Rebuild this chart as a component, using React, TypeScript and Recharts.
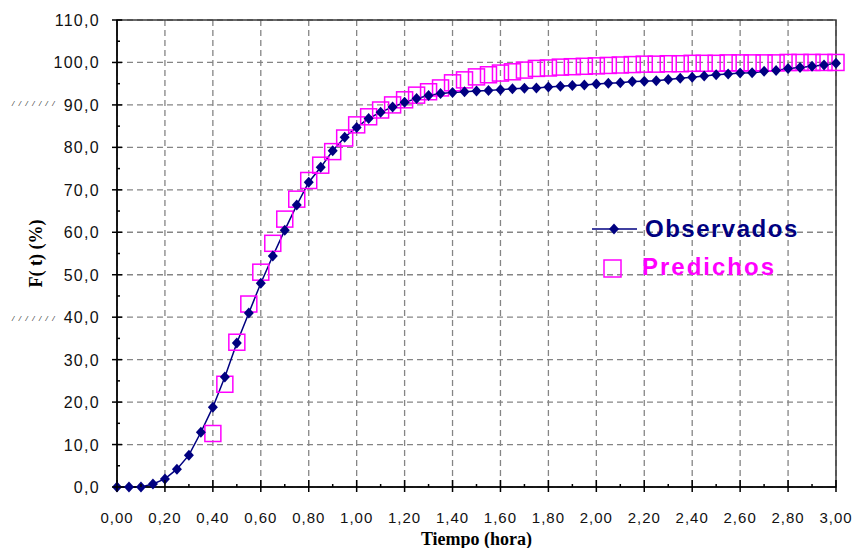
import { ComposedChart, Line, XAxis, YAxis, CartesianGrid, ReferenceArea } from 'recharts';

const T = [
  0, 0.05, 0.1, 0.15, 0.2, 0.25, 0.3, 0.35, 0.4, 0.45, 0.5, 0.55, 0.6, 0.65, 0.7, 0.75,
  0.8, 0.85, 0.9, 0.95, 1.0, 1.05, 1.1, 1.15, 1.2, 1.25, 1.3, 1.35, 1.4, 1.45, 1.5, 1.55,
  1.6, 1.65, 1.7, 1.75, 1.8, 1.85, 1.9, 1.95, 2.0, 2.05, 2.1, 2.15, 2.2, 2.25, 2.3, 2.35,
  2.4, 2.45, 2.5, 2.55, 2.6, 2.65, 2.7, 2.75, 2.8, 2.85, 2.9, 2.95, 3.0,
];

// Observados
const OBS = [
  0, 0, 0, 0.7, 1.9, 4.2, 7.5, 12.9, 18.8, 25.9, 33.9, 41.0, 48.0, 54.4, 60.5, 66.4,
  71.8, 75.3, 79.2, 82.4, 84.7, 86.8, 88.3, 89.5, 90.6, 91.5, 92.2, 92.7, 92.9, 93.1, 93.3, 93.4,
  93.6, 93.8, 93.9, 94.0, 94.2, 94.4, 94.6, 94.7, 94.9, 95.1, 95.2, 95.5, 95.6, 95.7, 96.0, 96.3,
  96.5, 96.8, 97.1, 97.3, 97.5, 97.6, 97.9, 98.1, 98.6, 98.8, 99.1, 99.4, 99.8,
];

// Predichos (start at 0,40)
const PRED = [
  null, null, null, null, null, null, null, null, 12.6, 24.2, 34.1, 43.1, 50.6, 57.4, 63.1, 67.8,
  72.2, 75.8, 79.0, 82.2, 85.3, 87.2, 88.8, 90.0, 91.2, 92.3, 93.1, 94.0, 95.2, 95.9, 96.6, 97.1,
  97.5, 97.8, 98.2, 98.6, 98.7, 98.9, 99.0, 99.1, 99.2, 99.3, 99.4, 99.5, 99.6, 99.6, 99.7, 99.7,
  99.8, 99.8, 99.8, 99.9, 99.9, 99.9, 99.9, 99.9, 100, 100, 100, 100, 100,
];

const X_MAJOR = [0, 0.2, 0.4, 0.6, 0.8, 1.0, 1.2, 1.4, 1.6, 1.8, 2.0, 2.2, 2.4, 2.6, 2.8, 3.0];
const X_TICKS = [
  0, 0.1, 0.2, 0.3, 0.4, 0.5, 0.6, 0.7, 0.8, 0.9, 1.0, 1.1, 1.2, 1.3, 1.4, 1.5,
  1.6, 1.7, 1.8, 1.9, 2.0, 2.1, 2.2, 2.3, 2.4, 2.5, 2.6, 2.7, 2.8, 2.9, 3.0,
];
const Y_MAJOR = [0, 10, 20, 30, 40, 50, 60, 70, 80, 90, 100, 110];
const Y_TICKS = [0, 5, 10, 15, 20, 25, 30, 35, 40, 45, 50, 55, 60, 65, 70, 75, 80, 85, 90, 95, 100, 105, 110];

const NAVY = '#000080';
const MAGENTA = '#ff00ff';
const SANS = '"Liberation Sans", Arial, sans-serif';
const SERIF = '"Liberation Serif", "Times New Roman", serif';

const data = T.map((t, i) => ({ t, obs: OBS[i], pred: PRED[i] }));

const isMajorX = (v: number) => Math.round(v * 10) % 2 === 0;
const isMajorY = (v: number) => Math.round(v) % 10 === 0;

const XTick = (props: any) => {
  const { x, y, payload } = props;
  const v = payload.value as number;
  if (!isMajorX(v)) {
    return <line x1={x} y1={y - 3} x2={x} y2={y} stroke="#000" strokeWidth={1.5} />;
  }
  return (
    <g>
      <line x1={x} y1={y - 7} x2={x} y2={y + 5} stroke="#000" strokeWidth={1.5} />
      <text x={x} y={y + 36} textAnchor="middle" fontSize={15} fontFamily={SANS} letterSpacing={1} fill="#111">
        {v.toFixed(2).replace('.', ',')}
      </text>
    </g>
  );
};

const YTick = (props: any) => {
  const { x, y, payload } = props;
  const v = payload.value as number;
  if (!isMajorY(v)) {
    return <line x1={x} y1={y} x2={x + 3} y2={y} stroke="#000" strokeWidth={1.5} />;
  }
  return (
    <g>
      <line x1={x - 5} y1={y} x2={x + 5} y2={y} stroke="#000" strokeWidth={1.5} />
      <text x={x - 17} y={y + 6} textAnchor="end" fontSize={16} fontFamily={SANS} letterSpacing={1.3} fill="#111">
        {v.toFixed(1).replace('.', ',')}
      </text>
    </g>
  );
};

const diamondPoints = (cx: number, cy: number) =>
  `${cx},${cy - 5.5} ${cx + 5},${cy} ${cx},${cy + 5.5} ${cx - 5},${cy}`;

const Diamond = (props: any) => {
  const { cx, cy, index } = props;
  if (cx == null || cy == null) return <g key={`o-${index}`} />;
  return <polygon key={`o-${index}`} points={diamondPoints(cx, cy)} fill={NAVY} />;
};

const Square = (props: any) => {
  const { cx, cy, index, payload } = props;
  if (cx == null || cy == null || payload.pred == null) return <g key={`p-${index}`} />;
  return (
    <rect key={`p-${index}`} x={cx - 8} y={cy - 8} width={16} height={16} fill="none" stroke={MAGENTA} strokeWidth={1.5} />
  );
};

const LegendBox = () => (
  <svg width={250} height={90} style={{ position: 'absolute', left: 585, top: 200 }}>
    <line x1={7} y1={29} x2={52} y2={29} stroke={NAVY} strokeWidth={1.5} />
    <polygon points={diamondPoints(29, 29)} fill={NAVY} />
    <text x={60} y={37} fontSize={24} fontWeight="bold" fontFamily={SANS} letterSpacing={1.5} fill={NAVY}>
      Observados
    </text>
    <rect x={19} y={60} width={17} height={17} fill="none" stroke={MAGENTA} strokeWidth={1.5} />
    <text x={57} y={75} fontSize={24} fontWeight="bold" fontFamily={SANS} letterSpacing={2} fill={MAGENTA}>
      Predichos
    </text>
  </svg>
);

const breakStyle: React.CSSProperties = {
  position: 'absolute',
  left: 12,
  fontSize: 8,
  letterSpacing: 4.5,
  fontStyle: 'italic',
  color: '#333',
  fontFamily: SANS,
  whiteSpace: 'nowrap',
};

export default function App() {
  return (
    <div style={{ position: 'absolute', left: 0, top: 0, width: 855, height: 548, background: '#fff' }}>
      <ComposedChart width={855} height={548} data={data} margin={{ top: 20, right: 19, left: 0, bottom: 0 }}>
        <CartesianGrid
          stroke="#858585"
          strokeDasharray="6 4"
          strokeWidth={1.3}
          verticalValues={X_MAJOR}
          horizontalValues={Y_MAJOR}
        />
        <ReferenceArea x1={0} x2={3} y1={0} y2={110} fill="none" stroke="#3a3a3a" strokeWidth={1.5} ifOverflow="visible" />
        <XAxis
          dataKey="t"
          type="number"
          domain={[0, 3]}
          ticks={X_TICKS}
          interval={0}
          height={61}
          tickSize={0}
          tickMargin={0}
          axisLine={{ stroke: '#000', strokeWidth: 1.5 }}
          tick={<XTick />}
          label={{
            value: 'Tiempo (hora)',
            position: 'insideBottom',
            offset: 3,
            style: { fontFamily: SERIF, fontWeight: 'bold', fontSize: 18, fill: '#000' },
          }}
        />
        <YAxis
          type="number"
          domain={[0, 110]}
          ticks={Y_TICKS}
          interval={0}
          width={117}
          tickSize={0}
          tickMargin={0}
          axisLine={{ stroke: '#000', strokeWidth: 1.5 }}
          tick={<YTick />}
          label={{
            value: 'F( t) (%)',
            angle: -90,
            position: 'insideLeft',
            offset: 36,
            style: { fontFamily: SERIF, fontWeight: 'bold', fontSize: 18, fill: '#000', textAnchor: 'middle' },
          }}
        />
        <Line
          dataKey="pred"
          name="Predichos"
          stroke="none"
          dot={<Square />}
          activeDot={false}
          isAnimationActive={false}
        />
        <Line
          dataKey="obs"
          name="Observados"
          stroke={NAVY}
          strokeWidth={1.5}
          dot={<Diamond />}
          activeDot={false}
          isAnimationActive={false}
          type="linear"
        />
      </ComposedChart>
      <LegendBox />
      <div style={{ ...breakStyle, top: 99 }}>///////</div>
      <div style={{ ...breakStyle, top: 314 }}>///////</div>
    </div>
  );
}
